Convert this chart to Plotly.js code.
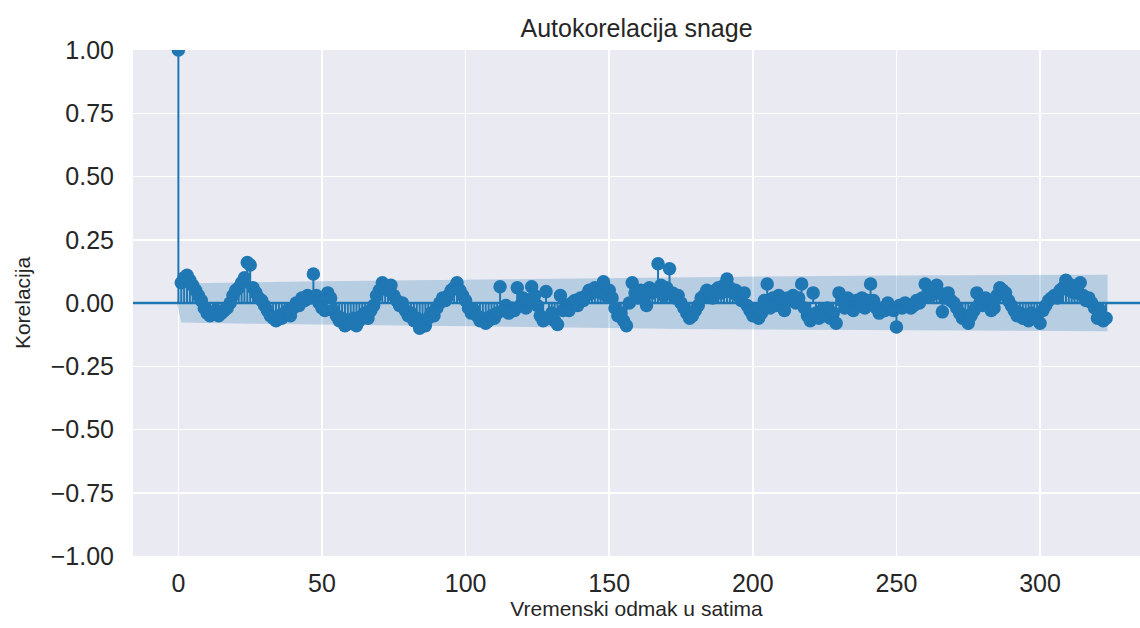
<!DOCTYPE html>
<html>
<head>
<meta charset="utf-8">
<script src="https://cdn.plot.ly/plotly-3.0.1.min.js"></script>
<style>html,body{margin:0;padding:0;background:#fff;}#chart{width:1140px;height:628px;}</style>
</head>
<body>
<div id="chart"></div>
<script>
// ACF values for lags 0..323
const acfValues = [
  1.0, 0.08, 0.10, 0.11, 0.09, 0.07, 0.05, 0.03, 0.01, -0.02,
  -0.04, -0.05, -0.04, -0.03, -0.05, -0.04, -0.03, -0.02, 0.00, 0.03,
  0.05, 0.06, 0.08, 0.10, 0.16, 0.15, 0.06, 0.04, 0.02, 0.01,
  -0.01, -0.03, -0.05, -0.06, -0.07, -0.05, -0.06, -0.04, -0.03, -0.05,
  -0.02, 0.00, -0.01, 0.02, 0.01, 0.03, 0.02, 0.115, 0.03, 0.00,
  -0.02, -0.03, 0.04, 0.02, -0.03, -0.05, -0.07, -0.06, -0.09, -0.07,
  -0.08, -0.06, -0.09, -0.07, -0.05, -0.04, -0.06, -0.03, -0.01, 0.03,
  0.05, 0.08, 0.06, 0.05, 0.07, 0.03, 0.01, -0.01, 0.00, -0.03,
  -0.05, -0.04, -0.07, -0.06, -0.10, -0.08, -0.09, -0.06, -0.04, -0.05,
  -0.02, 0.00, 0.02, 0.01, 0.03, 0.05, 0.06, 0.08, 0.05, 0.03,
  0.01, -0.02, -0.04, -0.03, -0.05, -0.07, -0.06, -0.08, -0.07, -0.05,
  -0.06, -0.04, 0.064, -0.03, -0.01, -0.04, -0.02, -0.03, 0.06, -0.01,
  0.02, -0.02, 0.01, 0.064, 0.03, -0.01, -0.05, -0.07, 0.045, -0.06,
  -0.04, -0.07, -0.085, 0.03, -0.03, -0.01, -0.03, 0.00, 0.01, -0.01,
  0.02, 0.01, 0.03, 0.05, 0.04, 0.06, 0.05, 0.04, 0.084, 0.03,
  0.05, 0.02, -0.02, -0.05, -0.04, -0.07, -0.09, 0.00, 0.08, 0.04,
  0.02, 0.05, 0.03, -0.01, 0.06, 0.04, 0.05, 0.155, 0.07, 0.03,
  0.06, 0.135, 0.04, 0.02, 0.03, 0.00, -0.02, -0.04, -0.06, -0.05,
  -0.03, -0.01, 0.02, 0.03, 0.05, 0.04, 0.02, 0.05, 0.06, 0.04,
  0.07, 0.095, 0.06, 0.04, 0.05, 0.03, 0.01, 0.04, -0.01, -0.03,
  -0.05, -0.03, -0.06, -0.04, 0.01, 0.075, -0.02, 0.02, -0.01, 0.03,
  0.01, -0.03, 0.02, 0.01, 0.03, 0.00, 0.02, 0.075, -0.02, -0.05,
  -0.07, 0.04, -0.04, -0.06, -0.03, -0.05, -0.02, -0.06, -0.04, -0.08,
  0.04, 0.01, -0.02, 0.02, 0.00, -0.03, 0.01, -0.01, 0.02, -0.02,
  0.01, 0.075, 0.01, -0.02, -0.04, -0.02, -0.03, 0.00, -0.02, -0.03,
  -0.095, -0.01, -0.02, 0.00, -0.01, -0.02, -0.01, 0.01, 0.00, 0.02,
  0.075, 0.04, 0.03, 0.05, 0.07, 0.04, -0.035, 0.02, 0.04, 0.01,
  0.00, -0.02, -0.04, -0.06, -0.05, -0.08, -0.05, -0.03, 0.04, 0.00,
  -0.01, 0.02, 0.01, -0.03, -0.02, 0.03, 0.06, 0.05, 0.04, 0.01,
  -0.01, -0.03, -0.05, -0.04, -0.06, -0.05, -0.07, -0.04, -0.06, -0.05,
  -0.08, -0.03, -0.01, 0.01, 0.02, 0.03, 0.02, 0.05, 0.06, 0.09,
  0.05, 0.07, 0.04, 0.06, 0.08, 0.03, 0.01, 0.02, 0.00, -0.02,
  -0.06, -0.03, -0.07, -0.06
];
const lags = acfValues.map((_, i) => i);

// Confidence band half-width read at selected lags
const bandLags = [-0.5, 1, 10, 25, 50, 75, 100, 125, 150, 175, 200, 225, 250, 275, 300, 323.5];
const bandHalf = [0, 0.077, 0.079, 0.082, 0.086, 0.089, 0.092, 0.096, 0.099, 0.103, 0.105, 0.107, 0.109, 0.110, 0.111, 0.112];

const xTicks = [0, 50, 100, 150, 200, 250, 300];
const yTicks = [-1, -0.75, -0.5, -0.25, 0, 0.25, 0.5, 0.75, 1];

const blue = '#1f77b4';

// stems
const stemX = [], stemY = [];
lags.forEach((l, i) => { stemX.push(l, l, null); stemY.push(0, acfValues[i], null); });

// band polygon
const bandX = bandLags.concat(bandLags.slice().reverse());
const bandY = bandHalf.concat(bandHalf.slice().reverse().map(v => -v));

const traces = [
  {x: bandX, y: bandY, type: 'scatter', mode: 'lines', fill: 'toself',
   fillcolor: 'rgba(31,119,180,0.25)', line: {width: 0}, hoverinfo: 'skip', showlegend: false},
  {x: stemX, y: stemY, type: 'scatter', mode: 'lines', line: {color: blue, width: 2}, hoverinfo: 'skip', showlegend: false},
  {x: lags, y: acfValues, type: 'scatter', mode: 'markers',
   marker: {color: blue, size: 13.5, line: {width: 0}}, showlegend: false}
];

const font = 'Liberation Sans, Arial, sans-serif';
const layout = {
  width: 1140, height: 628,
  margin: {l: 133, r: 0, t: 50, b: 72},
  paper_bgcolor: '#ffffff', plot_bgcolor: '#EAEAF2',
  font: {family: font, color: '#262626'},
  title: {text: 'Autokorelacija snage', font: {size: 25, color: '#262626', family: font},
          xref: 'paper', x: 0.5, xanchor: 'center', yref: 'container', y: 0.955, yanchor: 'middle'},
  xaxis: {range: [-15.8, 334.8], tickvals: xTicks, ticktext: xTicks.map(String),
          showgrid: true, gridcolor: '#ffffff', gridwidth: 1.5, zeroline: false, showline: false,
          ticks: '', ticklabelstandoff: 10, tickfont: {size: 25, color: '#262626'},
          title: {text: 'Vremenski odmak u satima', font: {size: 21, color: '#262626'}, standoff: 0}},
  yaxis: {range: [-1, 1], tickvals: yTicks, ticktext: yTicks.map(v => (v < 0 ? '\u2212' : '') + Math.abs(v).toFixed(2)),
          showgrid: true, gridcolor: '#ffffff', gridwidth: 1.5, zeroline: false, showline: false,
          ticks: '', ticklabelstandoff: 18, tickfont: {size: 25, color: '#262626'},
          title: {text: 'Korelacija', font: {size: 21, color: '#262626'}, standoff: 14}},
  shapes: [{type: 'line', xref: 'paper', x0: 0, x1: 1, yref: 'y', y0: 0, y1: 0,
            line: {color: blue, width: 2.5}, layer: 'above'}],
  showlegend: false
};

Plotly.newPlot('chart', traces, layout, {displayModeBar: false, staticPlot: true});
</script>
</body>
</html>
